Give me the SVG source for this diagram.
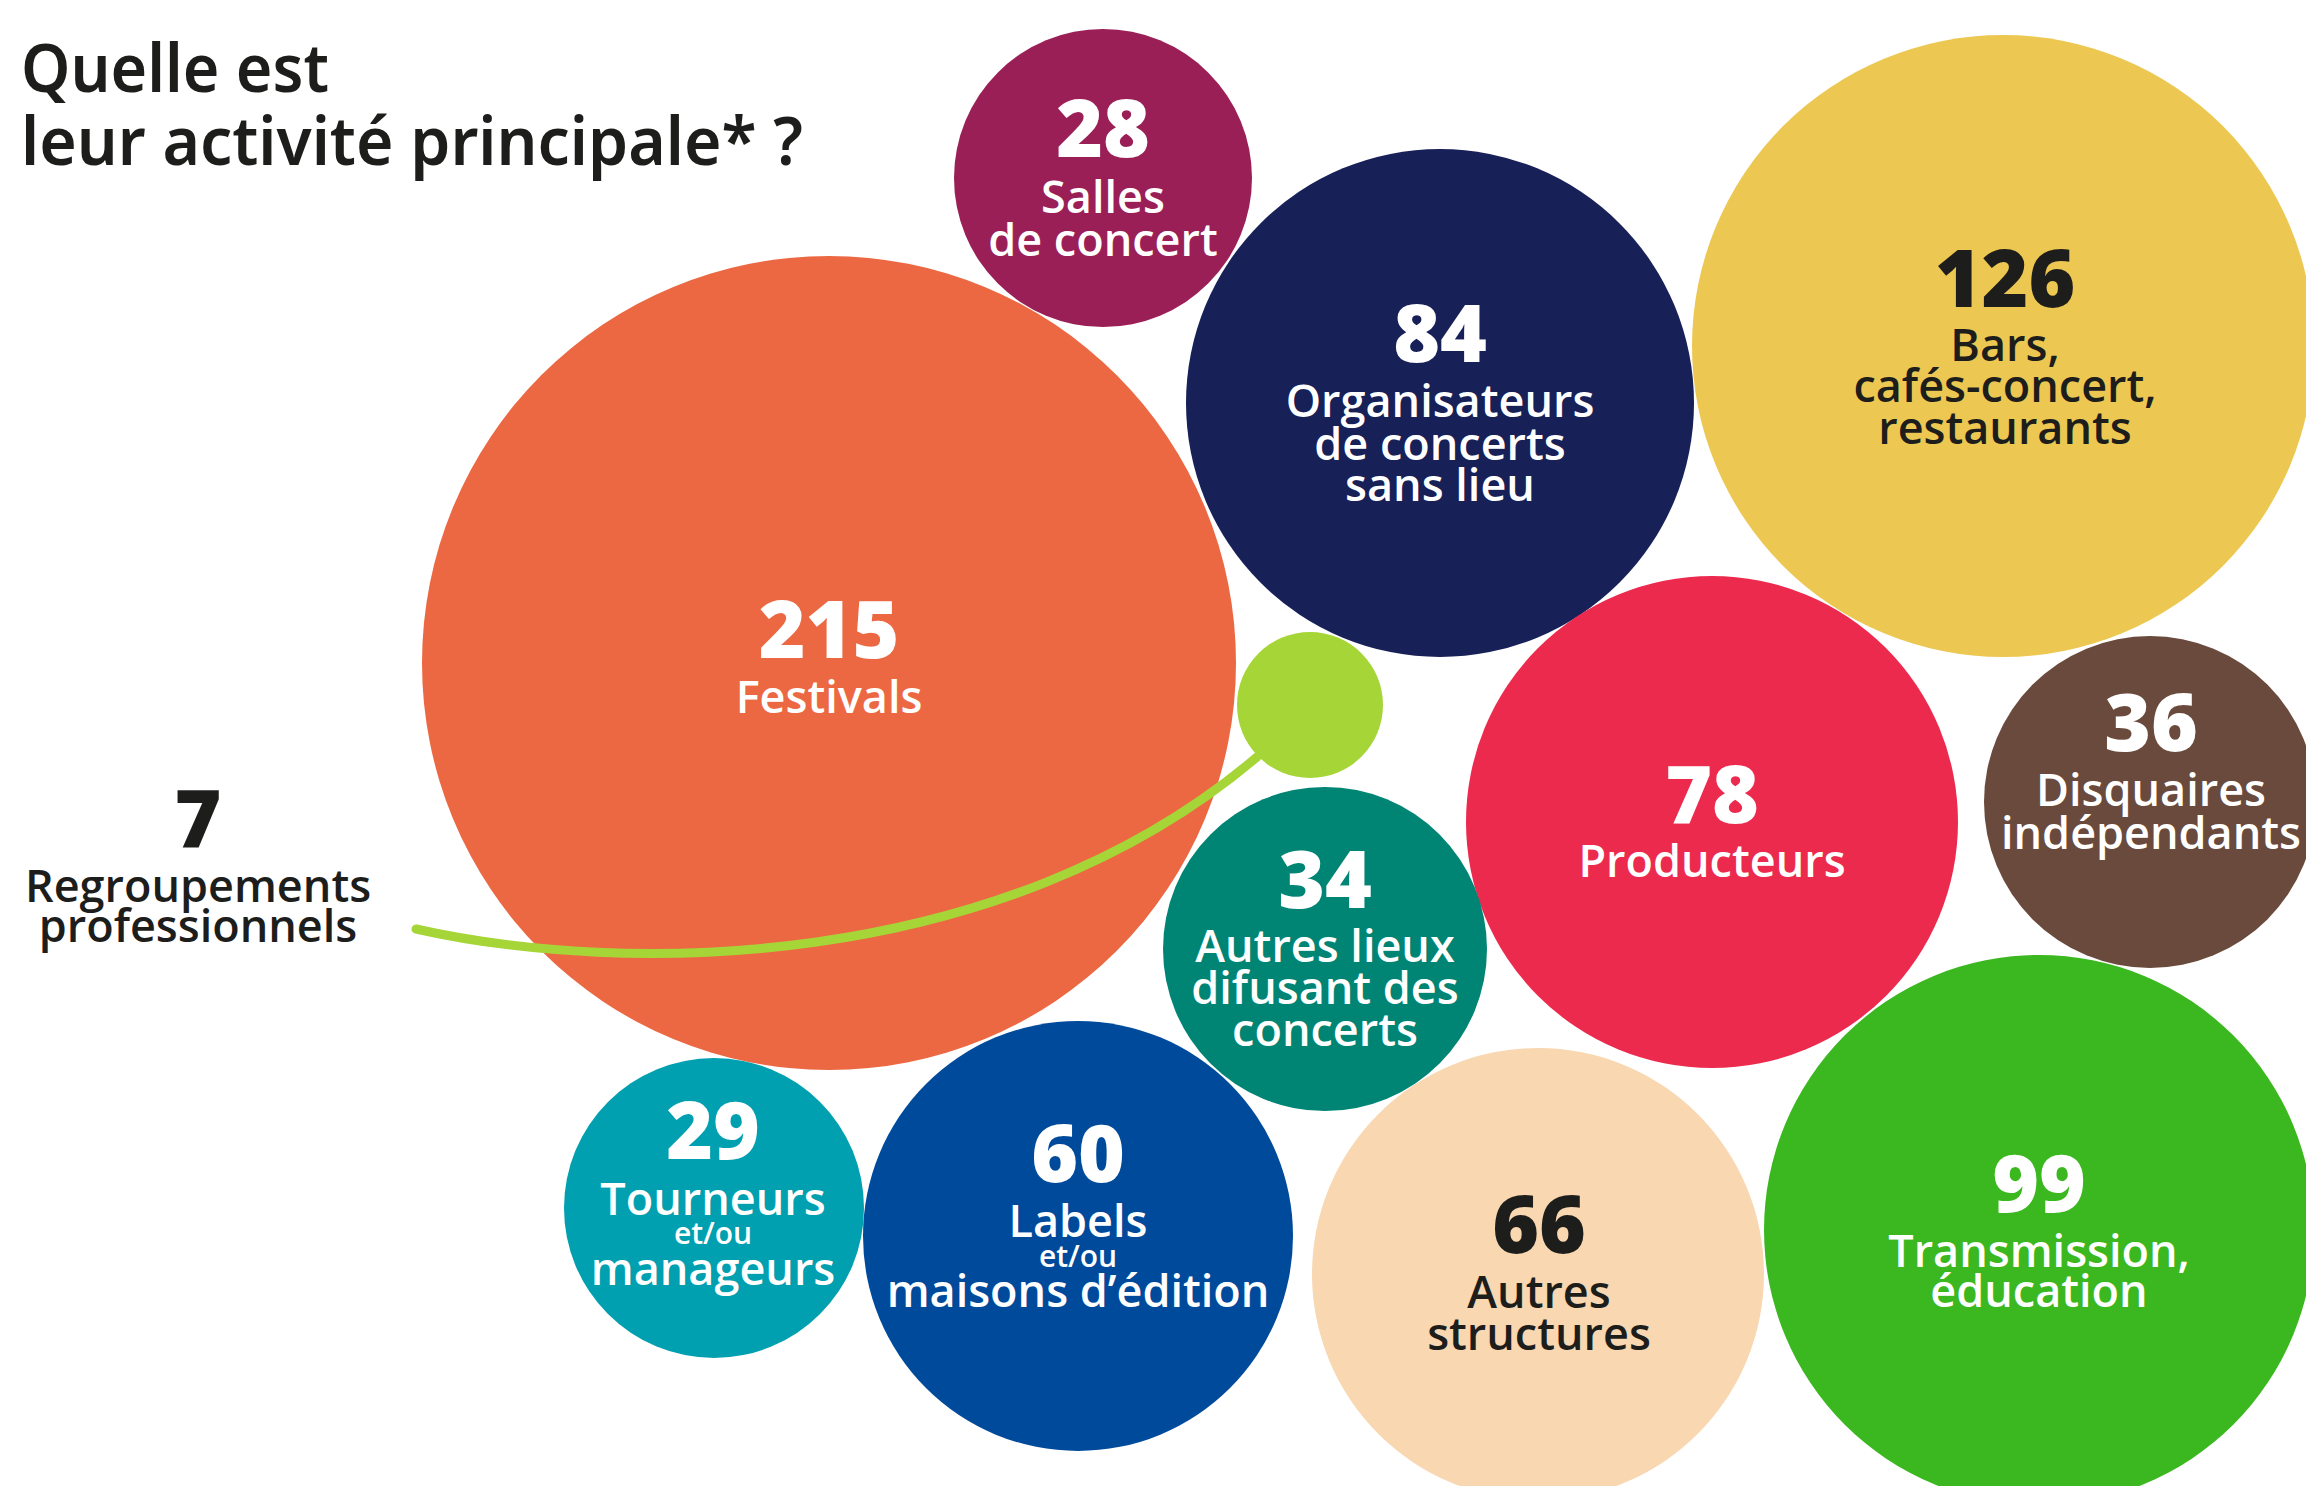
<svg xmlns="http://www.w3.org/2000/svg" width="2306" height="1486" viewBox="0 0 2306 1486">
<style>
text{font-family:"Open Sans","Noto Sans","Liberation Sans",sans-serif;text-anchor:middle}
.n{font-size:80px;font-weight:800}
.l{font-size:45px;font-weight:600}
.s{font-size:30px;font-weight:600}
.w{fill:#ffffff}
.d{fill:#1d1d1b}
.title{font-family:"Noto Sans","Open Sans","Liberation Sans",sans-serif;font-size:66px;font-weight:600;fill:#1d1d1b;text-anchor:start}
</style>
<rect width="2306" height="1486" fill="#ffffff"/>
<g id="title">
<text class="title" x="21" y="92" textLength="308" lengthAdjust="spacingAndGlyphs">Quelle est</text>
<text class="title" x="21" y="165" textLength="782" lengthAdjust="spacingAndGlyphs">leur activité principale* ?</text>
</g>
<g id="festivals">
<circle cx="829" cy="663" r="407" fill="#ec6843"/>
<text class="n w" x="829" y="658">215</text>
<text class="l w" x="829" y="713">Festivals</text>
</g>
<g id="salles">
<circle cx="1103" cy="178" r="149" fill="#9b1f57"/>
<text class="n w" x="1103" y="157">28</text>
<text class="l w" x="1103" y="213">Salles</text>
<text class="l w" x="1103" y="256">de concert</text>
</g>
<g id="organisateurs">
<circle cx="1440" cy="403" r="254" fill="#172057"/>
<text class="n w" x="1440" y="362">84</text>
<text class="l w" x="1440" y="417">Organisateurs</text>
<text class="l w" x="1440" y="460">de concerts</text>
<text class="l w" x="1440" y="501">sans lieu</text>
</g>
<g id="bars">
<circle cx="2003" cy="346" r="311" fill="#ecc852"/>
<text class="n d" x="2005" y="307">126</text>
<text class="l d" x="2005" y="361">Bars,</text>
<text class="l d" x="2005" y="402">cafés-concert,</text>
<text class="l d" x="2005" y="444">restaurants</text>
</g>
<g id="producteurs">
<circle cx="1712" cy="822" r="246" fill="#ec2a4e"/>
<text class="n w" x="1712" y="823">78</text>
<text class="l w" x="1712" y="877">Producteurs</text>
</g>
<g id="disquaires">
<circle cx="2150" cy="802" r="166" fill="#6a4a3c"/>
<text class="n w" x="2151" y="751">36</text>
<text class="l w" x="2151" y="806">Disquaires</text>
<text class="l w" x="2151" y="849">indépendants</text>
</g>
<g id="autres-lieux">
<circle cx="1325" cy="949" r="162" fill="#008474"/>
<text class="n w" x="1325" y="908">34</text>
<text class="l w" x="1325" y="962">Autres lieux</text>
<text class="l w" x="1325" y="1004">difusant des</text>
<text class="l w" x="1325" y="1046">concerts</text>
</g>
<g id="tourneurs">
<circle cx="714" cy="1208" r="150" fill="#00a0b0"/>
<text class="n w" x="713" y="1159">29</text>
<text class="l w" x="713" y="1215">Tourneurs</text>
<text class="s w" x="713" y="1244">et/ou</text>
<text class="l w" x="713" y="1285">manageurs</text>
</g>
<g id="labels">
<circle cx="1078" cy="1236" r="215" fill="#004a9b"/>
<text class="n w" x="1078" y="1182">60</text>
<text class="l w" x="1078" y="1237">Labels</text>
<text class="s w" x="1078" y="1267">et/ou</text>
<text class="l w" x="1078" y="1307">maisons d’édition</text>
</g>
<g id="autres-structures">
<circle cx="1538" cy="1274" r="226" fill="#f8d7b1"/>
<text class="n d" x="1539" y="1253">66</text>
<text class="l d" x="1539" y="1308">Autres</text>
<text class="l d" x="1539" y="1350">structures</text>
</g>
<g id="transmission">
<circle cx="2039" cy="1230" r="275" fill="#3bb71f"/>
<text class="n w" x="2039" y="1212">99</text>
<text class="l w" x="2039" y="1267">Transmission,</text>
<text class="l w" x="2039" y="1307">éducation</text>
</g>
<g id="regroupements">
<circle cx="1310" cy="705" r="73" fill="#a6d537"/>
<text class="n d" x="198" y="847">7</text>
<text class="l d" x="198" y="902">Regroupements</text>
<text class="l d" x="198" y="942">professionnels</text>
</g>
<g id="connectors">
<path d="M416,929 C620,975 1000,975 1257,757" fill="none" stroke="#a6d537" stroke-width="9" stroke-linecap="round"/>
</g>
</svg>
